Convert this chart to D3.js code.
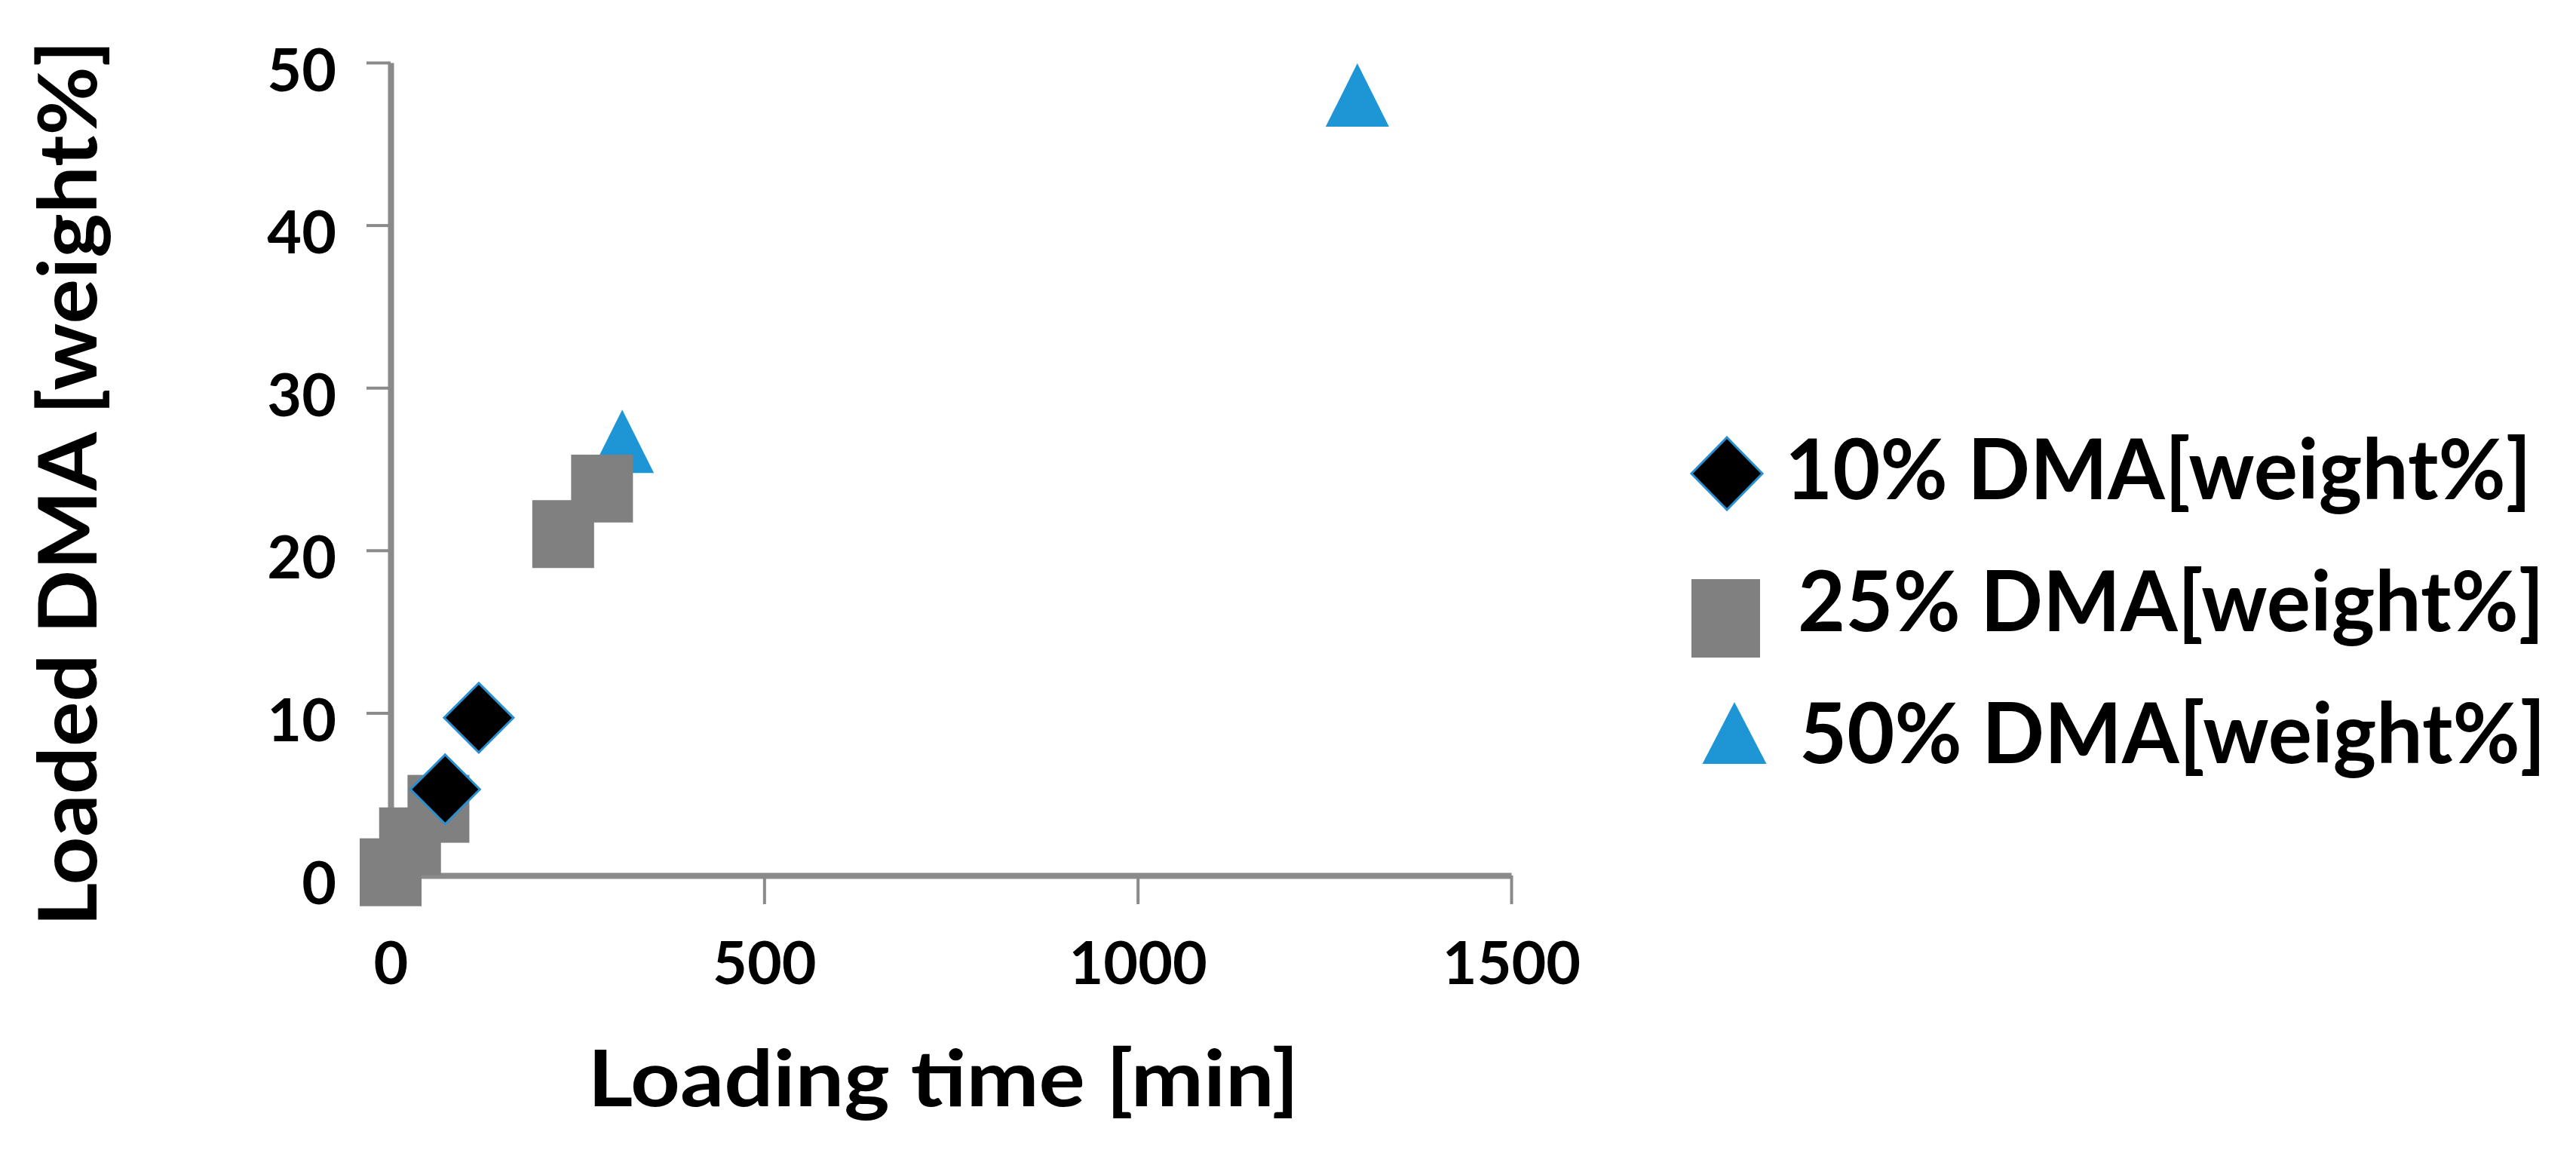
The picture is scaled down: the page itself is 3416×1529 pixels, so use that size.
<!DOCTYPE html>
<html>
<head>
<meta charset="utf-8">
<script src="https://cdn.jsdelivr.net/npm/d3@7"></script>
<style>
  body { margin: 0; background: #fff; }
  svg { display: block; }
  .axis path, .axis line { stroke: #8a8a8a; }
</style>
</head>
<body>
<script>
// chart values
var seriesNames = ["10% DMA[weight%]", "25% DMA[weight%]", "50% DMA[weight%]"];
var dma10 = [[73, 5.3], [118, 9.7]];
var dma25 = [[0, 0.2], [26, 2.1], [64, 4.1], [231, 21.0], [283, 23.8]];
var dma50 = [[310, 26.7], [1294, 48.0]];
var xTicks = [0, 500, 1000, 1500];
var yTicks = [0, 10, 20, 30, 40, 50];
var xTitle = "Loading time [min]";
var yTitle = "Loaded DMA [weight%]";

var w = 3416, h = 1529;
var plot = { left: 518, right: 2004, top: 83, bottom: 1161 };

var x = d3.scaleLinear().domain([0, 1500]).range([plot.left, plot.right]);
var y = d3.scaleLinear().domain([0, 50]).range([plot.bottom, plot.top]);

var svg = d3.select("body").append("svg")
  .attr("width", w)
  .attr("height", h);

svg.append("rect").attr("width", w).attr("height", h).attr("fill", "#fff");

// axes
var xAxis = d3.axisBottom(x).tickValues(xTicks).tickFormat(d3.format("d")).tickSize(38).tickSizeOuter(0);
var yAxis = d3.axisLeft(y).tickValues(yTicks).tickFormat(d3.format("d")).tickSize(32).tickSizeOuter(0);

var gx = svg.append("g")
  .attr("class", "x axis")
  .attr("transform", "translate(0," + plot.bottom + ")")
  .call(xAxis);
gx.select(".domain").attr("stroke-width", 8);
gx.selectAll(".tick line").attr("stroke-width", 4);
gx.selectAll(".tick text")
  .attr("y", 144)
  .attr("dy", 0)
  .attr("fill", "#000")
  .style("font-family", "Lato, 'Open Sans', sans-serif")
  .style("font-weight", "bold")
  .style("font-size", "79px");

var gy = svg.append("g")
  .attr("class", "y axis")
  .attr("transform", "translate(" + plot.left + ",0)")
  .call(yAxis);
gy.select(".domain").attr("stroke-width", 8);
gy.selectAll(".tick line").attr("stroke-width", 4);
gy.selectAll(".tick text")
  .attr("x", -72)
  .attr("y", 37)
  .attr("dy", 0)
  .attr("fill", "#000")
  .style("font-family", "Lato, 'Open Sans', sans-serif")
  .style("font-weight", "bold")
  .style("font-size", "79px");

// axis titles
svg.append("text")
  .attr("x", 1251)
  .attr("y", 1467)
  .attr("text-anchor", "middle")
  .attr("textLength", 943)
  .attr("lengthAdjust", "spacingAndGlyphs")
  .style("font-family", "Lato, 'Open Sans', sans-serif")
  .style("font-weight", "bold")
  .style("font-size", "103px")
  .text(xTitle);

svg.append("text")
  .attr("transform", "translate(128,641) rotate(-90)")
  .attr("text-anchor", "middle")
  .attr("textLength", 1175)
  .attr("lengthAdjust", "spacingAndGlyphs")
  .style("font-family", "Lato, 'Open Sans', sans-serif")
  .style("font-weight", "bold")
  .style("font-size", "108px")
  .text(yTitle);

// marker shapes
function diamondPath(hw, hh) {
  return "M0," + (-hh) + "L" + hw + ",0L0," + hh + "L" + (-hw) + ",0Z";
}
function trianglePath(tw, th) {
  return "M0," + (-th / 2) + "L" + (tw / 2) + "," + (th / 2) + "L" + (-tw / 2) + "," + (th / 2) + "Z";
}

var marks = svg.append("g").attr("class", "marks");

marks.selectAll("path.tri")
  .data(dma50)
  .enter().append("path")
  .attr("class", "tri")
  .attr("d", trianglePath(84, 84))
  .attr("transform", function (d) { return "translate(" + x(d[0]) + "," + y(d[1]) + ")"; })
  .attr("fill", "#1e96d6");

marks.selectAll("rect.sq")
  .data(dma25)
  .enter().append("rect")
  .attr("class", "sq")
  .attr("x", function (d) { return x(d[0]) - 41; })
  .attr("y", function (d) { return y(d[1]) - 45; })
  .attr("width", 82)
  .attr("height", 90)
  .attr("fill", "#808080");

marks.selectAll("path.dia")
  .data(dma10)
  .enter().append("path")
  .attr("class", "dia")
  .attr("d", diamondPath(46, 46))
  .attr("transform", function (d) { return "translate(" + x(d[0]) + "," + y(d[1]) + ")"; })
  .attr("fill", "#000")
  .attr("stroke", "#2a8fd0")
  .attr("stroke-width", 3);

// legend
var legend = svg.append("g").attr("class", "legend");
var rowY = [628, 820, 972];
var baseY = [662, 837, 1012];
var textX = [2367, 2384, 2386];

legend.append("path")
  .attr("d", diamondPath(47, 48))
  .attr("transform", "translate(2290," + rowY[0] + ")")
  .attr("fill", "#000")
  .attr("stroke", "#2a8fd0")
  .attr("stroke-width", 3);

legend.append("rect")
  .attr("x", 2243)
  .attr("y", rowY[1] - 52)
  .attr("width", 91)
  .attr("height", 104)
  .attr("fill", "#808080");

legend.append("path")
  .attr("d", trianglePath(85, 82))
  .attr("transform", "translate(2300," + rowY[2] + ")")
  .attr("fill", "#1e96d6");

legend.selectAll("text")
  .data(seriesNames)
  .enter().append("text")
  .attr("x", function (d, i) { return textX[i]; })
  .attr("y", function (d, i) { return baseY[i]; })
  .attr("textLength", 990)
  .attr("lengthAdjust", "spacingAndGlyphs")
  .style("font-family", "Lato, 'Open Sans', sans-serif")
  .style("font-weight", "bold")
  .style("font-size", "112px")
  .text(function (d) { return d; });
</script>
</body>
</html>
